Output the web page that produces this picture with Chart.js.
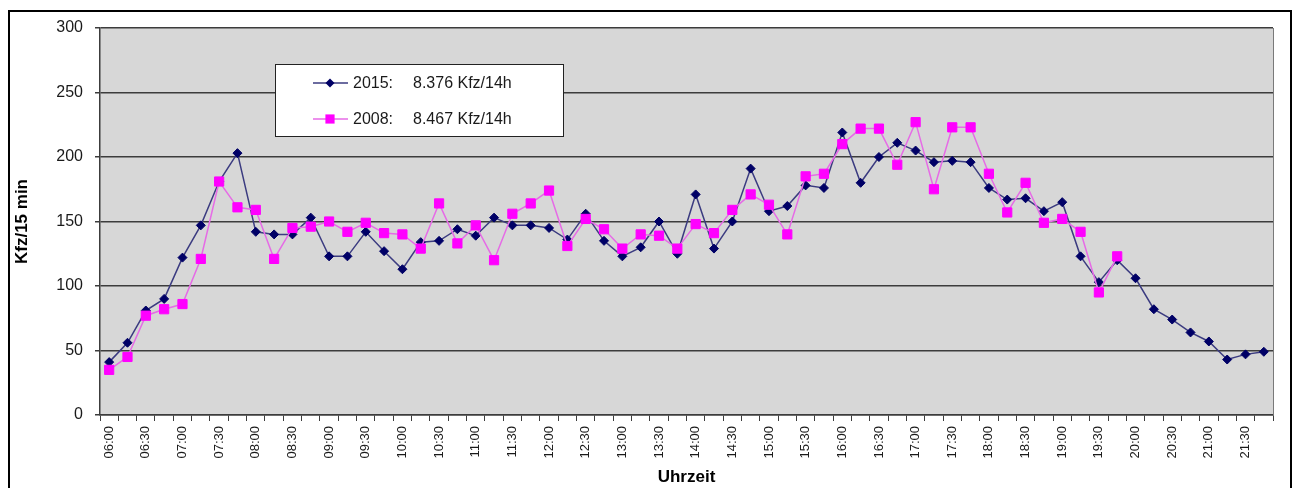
<!DOCTYPE html>
<html>
<head>
<meta charset="utf-8">
<script src="https://cdn.jsdelivr.net/npm/chart.js"></script>
<style>
  html, body { margin: 0; padding: 0; background: #fff; }
  canvas { display: block; }
</style>
</head>
<body>
<canvas id="plot1" width="1296" height="488"></canvas>
<script>
// Uhrzeit in 15-min-Schritten
let uhrzeit = [
  "06:00", "06:15", "06:30", "06:45", "07:00", "07:15", "07:30", "07:45",
  "08:00", "08:15", "08:30", "08:45", "09:00", "09:15", "09:30", "09:45",
  "10:00", "10:15", "10:30", "10:45", "11:00", "11:15", "11:30", "11:45",
  "12:00", "12:15", "12:30", "12:45", "13:00", "13:15", "13:30", "13:45",
  "14:00", "14:15", "14:30", "14:45", "15:00", "15:15", "15:30", "15:45",
  "16:00", "16:15", "16:30", "16:45", "17:00", "17:15", "17:30", "17:45",
  "18:00", "18:15", "18:30", "18:45", "19:00", "19:15", "19:30", "19:45",
  "20:00", "20:15", "20:30", "20:45", "21:00", "21:15", "21:30", "21:45"
];

// Kfz/15 min
let werte2015 = [
  41, 56, 81, 90, 122, 147, 181, 203,
  142, 140, 140, 153, 123, 123, 142, 127,
  113, 134, 135, 144, 139, 153, 147, 147,
  145, 136, 156, 135, 123, 130, 150, 125,
  171, 129, 150, 191, 158, 162, 178, 176,
  219, 180, 200, 211, 205, 196, 197, 196,
  176, 167, 168, 158, 165, 123, 103, 120,
  106, 82, 74, 64, 57, 43, 47, 49
];

let werte2008 = [
  35, 45, 77, 82, 86, 121, 181, 161,
  159, 121, 145, 146, 150, 142, 149, 141,
  140, 129, 164, 133, 147, 120, 156, 164,
  174, 131, 152, 144, 129, 140, 139, 129,
  148, 141, 159, 171, 163, 140, 185, 187,
  210, 222, 222, 194, 227, 175, 223, 223,
  187, 157, 180, 149, 152, 142, 95, 123,
  null, null, null, null, null, null, null, null
];

let legende = ["2015:   8.376 Kfz/14h", "2008:   8.467 Kfz/14h"];

let schrift = "Arial, 'Liberation Sans', sans-serif";

// Hintergrund, Rahmen und Legende selbst zeichnen
let rahmenPlugin = {
  id: "rahmen",
  beforeDraw: (chart) => {
    let { ctx, chartArea } = chart;
    ctx.save();
    ctx.fillStyle = "#fff";
    ctx.fillRect(0, 0, chart.width, chart.height);
    ctx.fillStyle = "#d7d7d7";
    ctx.fillRect(chartArea.left, chartArea.top, chartArea.width, chartArea.height);
    ctx.restore();
  },
  afterDraw: (chart) => {
    let { ctx, chartArea } = chart;
    ctx.save();

    // rechte Kante der Zeichenfläche
    ctx.strokeStyle = "#7a7a7a";
    ctx.lineWidth = 1;
    ctx.beginPath();
    ctx.moveTo(chartArea.right + 0.5, chartArea.top);
    ctx.lineTo(chartArea.right + 0.5, chartArea.bottom);
    ctx.stroke();

    // äußerer Rahmen
    ctx.strokeStyle = "#000";
    ctx.lineWidth = 2;
    ctx.strokeRect(9, 11, 1282, 500);

    // Legende
    let x = chartArea.left + 175;
    let y = chartArea.top + 36;
    ctx.fillStyle = "#fff";
    ctx.fillRect(x, y, 288, 72);
    ctx.strokeStyle = "#222";
    ctx.lineWidth = 1;
    ctx.strokeRect(x + 0.5, y + 0.5, 288, 72);

    chart.data.datasets.forEach((ds, i) => {
      let zy = y + 19 + i * 36;
      ctx.strokeStyle = ds.borderColor;
      ctx.lineWidth = 1.5;
      ctx.beginPath();
      ctx.moveTo(x + 38, zy);
      ctx.lineTo(x + 73, zy);
      ctx.stroke();

      let mx = x + 55;
      ctx.fillStyle = ds.pointBackgroundColor;
      ctx.beginPath();
      if (ds.pointStyle === "rectRot") {
        let r = ds.pointRadius;
        ctx.moveTo(mx, zy - r);
        ctx.lineTo(mx + r, zy);
        ctx.lineTo(mx, zy + r);
        ctx.lineTo(mx - r, zy);
        ctx.closePath();
      } else {
        let s = ds.pointRadius * Math.SQRT1_2;
        ctx.rect(mx - s, zy - s, 2 * s, 2 * s);
      }
      ctx.fill();

      let text = legende[i];
      let pos = text.indexOf(":") + 1;
      ctx.fillStyle = "#1a1a1a";
      ctx.font = "16px " + schrift;
      ctx.textBaseline = "middle";
      ctx.textAlign = "left";
      ctx.fillText(text.slice(0, pos), x + 78, zy + 1);
      ctx.fillText(text.slice(pos).trim(), x + 138, zy + 1);
    });

    ctx.restore();
  },
};

let config = {
  type: "line",
  data: {
    labels: uhrzeit,
    datasets: [
      {
        label: legende[0],
        data: werte2015,
        order: 1,
        borderColor: "#3b3b80",
        borderWidth: 1.5,
        pointStyle: "rectRot",
        pointRadius: 4.5,
        pointBackgroundColor: "#000066",
        pointBorderColor: "#000066",
        pointBorderWidth: 1,
        tension: 0,
      },
      {
        label: legende[1],
        data: werte2008,
        order: 0,
        borderColor: "#e66be6",
        borderWidth: 1.5,
        pointStyle: "rect",
        pointRadius: 6.5,
        pointBackgroundColor: "#ff00ff",
        pointBorderColor: "#ff00ff",
        pointBorderWidth: 1,
        tension: 0,
      },
    ],
  },
  options: {
    responsive: false,
    animation: false,
    devicePixelRatio: 1,
    layout: { padding: { left: 0, top: 28, right: 23, bottom: 0 } },
    plugins: {
      legend: { display: false },
      tooltip: { enabled: false },
    },
    scales: {
      x: {
        offset: true,
        afterFit: (scale) => { scale.height = 73; },
        grid: {
          offset: true,
          drawOnChartArea: false,
          color: "#3c3c3c",
          lineWidth: 1,
          tickLength: 6,
        },
        border: { color: "#3c3c3c", width: 1.5 },
        ticks: {
          autoSkip: false,
          maxRotation: 90,
          minRotation: 90,
          padding: 5,
          color: "#1a1a1a",
          font: { size: 13, family: schrift },
          callback: function (value, index) {
            return index % 2 === 0 ? this.getLabelForValue(value) : "";
          },
        },
        title: {
          display: true,
          text: "Uhrzeit",
          color: "#000",
          font: { size: 17, weight: "bold", family: schrift },
          padding: { top: 0, bottom: 0 },
        },
      },
      y: {
        min: 0,
        max: 300,
        afterFit: (scale) => { scale.width = 100; },
        grid: { color: "#3c3c3c", lineWidth: 1.5, tickLength: 5 },
        border: { color: "#3c3c3c", width: 1.5 },
        ticks: {
          stepSize: 50,
          padding: 12,
          color: "#1a1a1a",
          font: { size: 16, family: schrift },
        },
        title: {
          display: true,
          text: "Kfz/15 min",
          color: "#000",
          font: { size: 17, weight: "bold", family: schrift },
          padding: { top: 12, bottom: 0 },
        },
      },
    },
  },
  plugins: [rahmenPlugin],
};

let plotRef = document.getElementById("plot1");
let chart1 = new Chart(plotRef, config);
</script>
</body>
</html>
